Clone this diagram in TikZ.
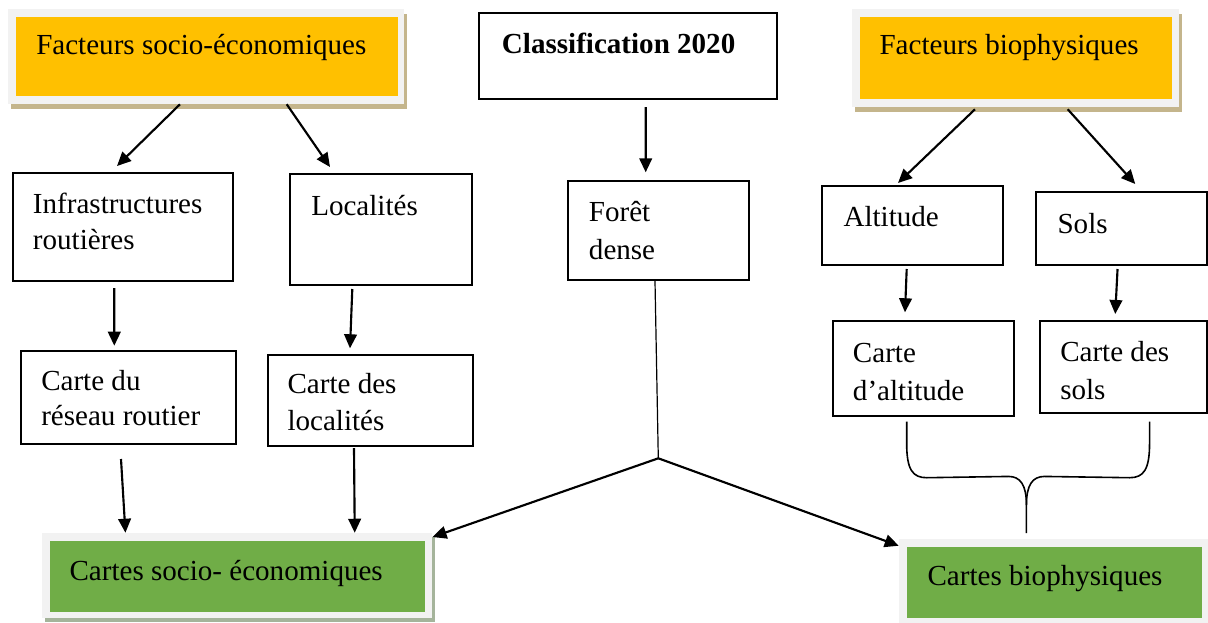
\documentclass[tikz,border=0pt]{standalone}
\usepackage{fontspec}
\setmainfont{Liberation Serif}
\usetikzlibrary{arrows.meta,calc,fit}
\definecolor{orangeBox}{RGB}{255,192,0}
\definecolor{greenBox}{RGB}{112,173,71}
\definecolor{paleFrame}{RGB}{242,242,242}
\definecolor{tanShadow}{RGB}{196,181,140}
\definecolor{sageShadow}{RGB}{165,180,155}
\newcommand{\twolines}[3][0pt]{\begin{tabular}[t]{@{}l@{}}#2\\[#1]#3\end{tabular}}

\begin{document}
\begin{tikzpicture}[x=0.75pt,y=0.75pt,yscale=-1,xscale=1,
    plain/.style={draw, line width=1.5pt, inner sep=0pt},
    frame/.style={fill=paleFrame, inner sep=0pt},
    lbl/.style={anchor=base west, inner sep=0pt, font=\fontsize{21.8}{26.2}\selectfont},
    arr/.style={line width=1.6pt, -{Triangle[length=10.5pt,width=9.5pt]}},
    brc/.style={line width=1.2pt}]
        \useasboundingbox (0,0) rectangle (1208,622);

        % top row
        \fill[tanShadow] (11,14) rectangle (406.5,109);
        \node[frame, fit={(8.3,9) (404.3,104)}] (fsoc) {};
        \node[fill=orangeBox, inner sep=0pt, fit={(16,16.7) (398.3,96)}] (fsocIn) {};
        \node[lbl] (fsocT) at (36,54) {Facteurs socio-économiques};

        \node[plain, fit={(479.3,13.3) (776.7,99.3)}] (cls) {};
        \node[lbl] (clsT) at (501.7,53) {\bfseries Classification 2020};

        \fill[tanShadow] (855,14) rectangle (1182.3,111.7);
        \node[frame, fit={(852,9) (1179.3,107.3)}] (fbio) {};
        \node[fill=orangeBox, inner sep=0pt, fit={(860,16.7) (1171.7,99.3)}] (fbioIn) {};
        \node[lbl] (fbioT) at (879.3,54) {Facteurs biophysiques};

        % factors
        \node[plain, fit={(12.7,173.3) (233.3,280.7)}] (infra) {};
        \node[lbl] (infraT) at (32.7,213.3) {\twolines[0.8pt]{Infrastructures}{routières}};
        \node[plain, fit={(290,174) (472,285.3)}] (loc) {};
        \node[lbl] (locT) at (311,215) {Localités};
        \node[plain, fit={(568.3,180.7) (749.3,280)}] (foret) {};
        \node[lbl] (foretT) at (588.7,221.7) {\twolines[2.5pt]{Forêt}{dense}};
        \node[plain, fit={(822,185.7) (1003.3,265.3)}] (alt) {};
        \node[lbl] (altT) at (843.3,226.7) {Altitude};
        \node[plain, fit={(1035.7,192.3) (1206.5,265.3)}] (sols) {};
        \node[lbl] (solsT) at (1057.3,233.3) {Sols};

        % maps
        \node[plain, fit={(21,351) (235.7,444)}] (cres) {};
        \node[lbl] (cresT) at (41,390.5) {\twolines[0pt]{Carte du}{réseau routier}};
        \node[plain, fit={(267.7,355.3) (472.7,445.7)}] (cloc) {};
        \node[lbl] (clocT) at (287.3,393.5) {\twolines[1.2pt]{Carte des}{localités}};
        \node[plain, fit={(832.7,321) (1014.3,415.7)}] (calt) {};
        \node[lbl] (caltT) at (852.7,362.3) {\twolines[2.6pt]{Carte}{d’altitude}};
        \node[plain, fit={(1040,321) (1206.5,412.7)}] (csols) {};
        \node[lbl] (csolsT) at (1060,361.5) {\twolines[2.6pt]{Carte des}{sols}};

        % results
        \fill[sageShadow] (45,537) rectangle (435,621.5);
        \node[frame, fit={(42,533.3) (431.7,618.3)}] (csoc) {};
        \node[fill=greenBox, inner sep=0pt, fit={(50,541) (425,611.7)}] (csocIn) {};
        \node[lbl] (csocT) at (69.3,580) {Cartes socio- économiques};

        \node[frame, fit={(899.3,539.3) (1212,626)}] (cbio) {};
        \node[fill=greenBox, inner sep=0pt, fit={(907.3,547.3) (1202.3,617.7)}] (cbioIn) {};
        \node[lbl] (cbioT) at (927.3,585) {Cartes biophysiques};

        % arrows
        \draw[arr] ($(fsoc.south)+(-26.3,0)$) -- ($(infra.north)+(-6,-6.3)$);
        \draw[arr] ($(fsoc.south)+(80.4,0)$) -- ($(loc.north)+(-51,-6)$);
        \draw[arr] ($(cls.south)+(17.7,6.7)$) -- ($(foret.north)+(-13.1,-7.4)$);
        \draw[arr] ($(fbio.south)+(-40.65,1.7)$) -- ($(alt.north)+(-14.65,-1.7)$);
        \draw[arr] ($(fbio.south)+(52.05,1.7)$) -- ($(sols.north)+(14.15,-7.3)$);
        \draw[arr] ($(infra.south)+(-8.7,6.3)$) -- ($(cres.north)+(-14.05,-4.3)$);
        \draw[arr] ($(loc.south)+(-28.7,2.7)$) -- ($(cloc.north)+(-20.2,-6)$);
        \draw[arr] ($(alt.south)+(-5.95,2.7)$) -- ($(calt.north)+(-18.5,-7.7)$);
        \draw[arr] ($(sols.south)+(-3.55,2.7)$) -- ($(csols.north)+(-8,-6)$);
        \draw[arr] ($(cres.south)+(-7.35,14)$) -- ($(csoc.north west)+(83.7,-0.3)$);
        \draw[arr] ($(cloc.south)+(-16.2,1.3)$) -- ($(csoc.north west)+(313,-0.3)$);

        % forest split
        \coordinate (split) at ($(foret.south)+(-0.5,177.3)$);
        \draw[line width=0.9pt] ($(foret.south)+(-3.8,0)$) -- (split);
        \draw[arr] (split) -- ($(csoc.north east)+(0.6,4)$);
        \draw[arr] (split) -- ($(cbio.north west)+(-0.3,6.7)$);

        % brace
        \coordinate (bl) at ($(calt.south)+(-16.8,5)$);
        \coordinate (br) at ($(csols.south)+(26.3,8)$);
        \coordinate (bt) at ($(cbio.north west)+(127.4,-6)$);
        \draw[brc] (bl) -- ++(0,22) .. controls +(0,26) and +(-14,0) .. ++(20,34) -- ($(bt)+(-18,-56.6)$) .. controls +(12,0) and +(0,-20) .. ($(bt)+(0,-28)$) -- (bt);
        \draw[brc] (br) -- ++(0,22) .. controls +(0,26) and +(14,0) .. ++(-20,34) -- ($(bt)+(18,-56.6)$) .. controls +(-12,0) and +(0,-20) .. ($(bt)+(0,-28)$);
    \end{tikzpicture}
\end{document}
